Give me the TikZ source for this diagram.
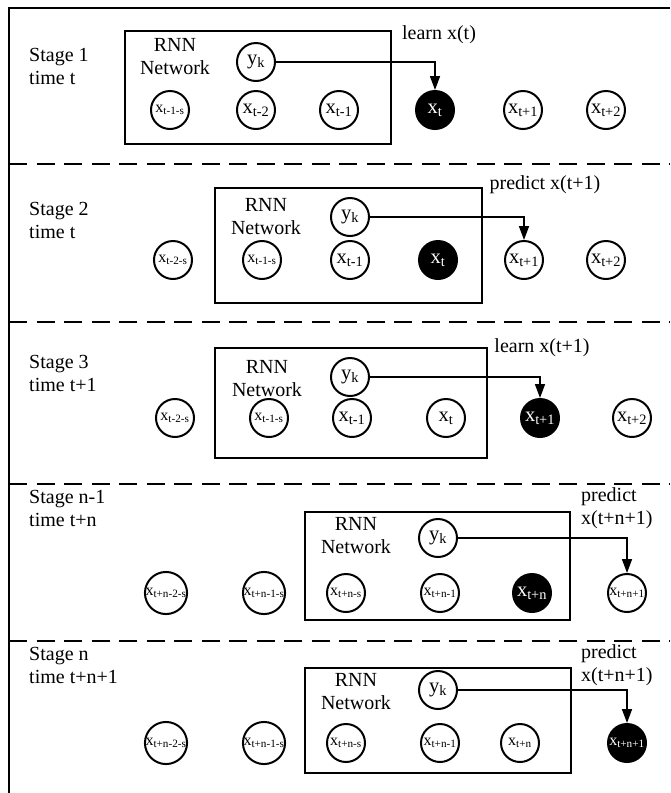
\documentclass[tikz,border=0pt]{standalone}
\usepackage{fontspec}
\setmainfont{Liberation Serif}
\usetikzlibrary{arrows.meta,positioning}

\newcommand{\xsub}[1]{x\textsubscript{#1}}

\begin{document}
\begin{tikzpicture}[x=1pt,y=-1pt,
  unit/.style={circle, draw, line width=2pt, inner sep=0pt, minimum size=38pt, font=\fontsize{20.5}{20.5}\selectfont},
  smallunit/.style={unit, font=\fontsize{16}{16}\selectfont},
  hot/.style={fill=black, text=white},
  netbox/.style={draw, line width=2pt},
  sep/.style={line width=2.8pt, dash pattern=on 18pt off 9.5pt},
  flow/.style={line width=1.6pt, -{Triangle[length=14pt,width=10pt]}},
  lbl/.style={font=\fontsize{20}{23}\selectfont, align=left, inner sep=0pt},
]
\useasboundingbox (0,0) rectangle (670,793);

% Outer frame and stage separators
\draw[line width=2.6pt] (9,793) -- (9,8) -- (670,8);
\draw[sep] (9,164) -- (670,164);
\draw[sep] (9,322) -- (670,322);
\draw[sep] (9,484) -- (670,484);
\draw[sep] (9,641) -- (670,641);

% Stage 1
\node[lbl, anchor=west] (s1lab) at (29,66) {Stage 1\\time t};
\draw[netbox] (125,31) rectangle (391,144);
\node[lbl, align=center] (s1net) at (175,57) {RNN\\Network};
\node[unit] (s1yk) at (256,62) {y\textsubscript{k}};
\node[smallunit] (s1a) at (170,110) {\xsub{t-1-s}};
\node[unit] (s1b) at (256,110) {\xsub{t-2}};
\node[unit] (s1c) at (339,110) {\xsub{t-1}};
\node[unit, hot] (s1d) at (435,110) {\xsub{t}};
\node[unit] (s1e) at (523,110) {\xsub{t+1}};
\node[unit] (s1f) at (606,110) {\xsub{t+2}};
\node[lbl] (s1task) at (439,35) {learn x(t)};
\draw[flow] (s1yk) -| (s1d);

% Stage 2
\node[lbl, anchor=west] (s2lab) at (29,220) {Stage 2\\time t};
\draw[netbox] (215,188) rectangle (482,303);
\node[lbl, align=center] (s2net) at (266,217) {RNN\\Network};
\node[unit] (s2yk) at (350,217) {y\textsubscript{k}};
\node[smallunit] (s2a) at (173,260) {\xsub{t-2-s}};
\node[smallunit] (s2b) at (262,260) {\xsub{t-1-s}};
\node[unit] (s2c) at (350,260) {\xsub{t-1}};
\node[unit, hot] (s2d) at (438,260) {\xsub{t}};
\node[unit] (s2e) at (524,260) {\xsub{t+1}};
\node[unit] (s2f) at (606,260) {\xsub{t+2}};
\node[lbl] (s2task) at (545,185) {predict x(t+1)};
\draw[flow] (s2yk) -| (s2e);

% Stage 3
\node[lbl, anchor=west] (s3lab) at (29,373) {Stage 3\\time t+1};
\draw[netbox] (215,348) rectangle (487,458);
\node[lbl, align=center] (s3net) at (267,379) {RNN\\Network};
\node[unit] (s3yk) at (350,377) {y\textsubscript{k}};
\node[smallunit] (s3a) at (175,418) {\xsub{t-2-s}};
\node[smallunit] (s3b) at (269,418) {\xsub{t-1-s}};
\node[unit] (s3c) at (352,418) {\xsub{t-1}};
\node[unit] (s3d) at (446,418) {\xsub{t}};
\node[unit, hot] (s3e) at (540,418) {\xsub{t+1}};
\node[unit] (s3f) at (632,418) {\xsub{t+2}};
\node[lbl] (s3task) at (542,348) {learn x(t+1)};
\draw[flow] (s3yk) -| (s3e);

% Stage n-1
\node[lbl, anchor=west] (s4lab) at (29,508) {Stage n-1\\time t+n};
\draw[netbox] (305,512) rectangle (570,620);
\node[lbl, align=center] (s4net) at (356,536) {RNN\\Network};
\node[unit] (s4yk) at (438,538) {y\textsubscript{k}};
\node[smallunit] (s4a) at (166,593) {\xsub{t+n-2-s}};
\node[smallunit] (s4b) at (264,593) {\xsub{t+n-1-s}};
\node[smallunit] (s4c) at (346,593) {\xsub{t+n-s}};
\node[smallunit] (s4d) at (440,593) {\xsub{t+n-1}};
\node[unit, hot] (s4e) at (532,593) {\xsub{t+n}};
\node[smallunit] (s4f) at (627,593) {\xsub{t+n+1}};
\node[lbl, anchor=west] (s4task) at (581,508) {predict\\x(t+n+1)};
\draw[flow] (s4yk) -| (s4f);

% Stage n
\node[lbl, anchor=west] (s5lab) at (29,665) {Stage n\\time t+n+1};
\draw[netbox] (305,668) rectangle (571,773);
\node[lbl, align=center] (s5net) at (356,692) {RNN\\Network};
\node[unit] (s5yk) at (438,690) {y\textsubscript{k}};
\node[smallunit] (s5a) at (166,743) {\xsub{t+n-2-s}};
\node[smallunit] (s5b) at (264,743) {\xsub{t+n-1-s}};
\node[smallunit] (s5c) at (346,743) {\xsub{t+n-s}};
\node[smallunit] (s5d) at (440,743) {\xsub{t+n-1}};
\node[smallunit] (s5e) at (520,743) {\xsub{t+n}};
\node[smallunit, hot] (s5f) at (627,743) {\xsub{t+n+1}};
\node[lbl, anchor=west] (s5task) at (581,665) {predict\\x(t+n+1)};
\draw[flow] (s5yk) -| (s5f);

\end{tikzpicture}
\end{document}
